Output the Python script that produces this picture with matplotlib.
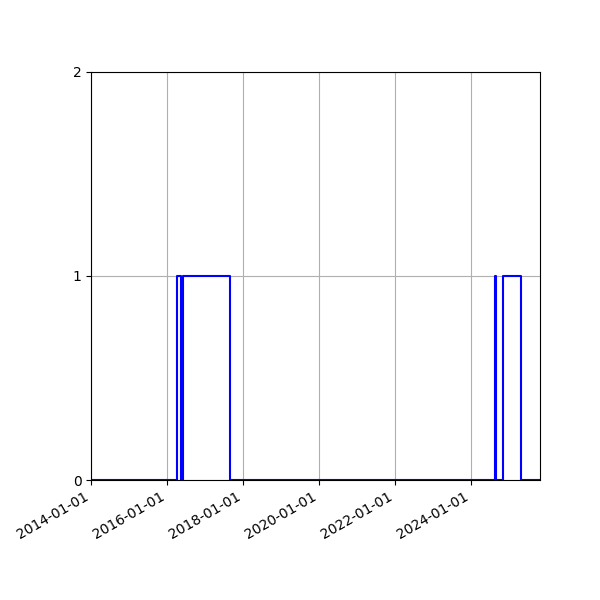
import matplotlib
matplotlib.use("Agg")
import matplotlib.pyplot as plt
import matplotlib.dates as mdates
import pandas as pd

# dates where the state changes
change_dates = ["2014-01-01", "2016-04-02", "2016-05-14", "2016-06-06",
                "2017-08-29", "2024-08-15", "2024-08-30", "2024-11-06",
                "2025-04-26", "2025-10-25"]
states = [0, 1, 0, 1, 0, 1, 0, 1, 0, 0]

dates = pd.to_datetime(change_dates)

fig = plt.figure(figsize=(6, 6), dpi=100)
ax = fig.add_axes([0.152, 0.2, 0.748, 0.68])
ax.plot(dates, states, drawstyle="steps-post", color="blue")

ax.set_xlim(dates[0], dates[-1])
ax.set_ylim(0, 2)
ax.set_yticks([0, 1, 2])
ax.xaxis.set_major_locator(mdates.YearLocator(2))
ax.xaxis.set_major_formatter(mdates.DateFormatter("%Y-%m-%d"))
ax.grid(True)
for lbl in ax.get_xticklabels():
    lbl.set_rotation(30)
    lbl.set_ha("right")

fig.savefig("out.png")
